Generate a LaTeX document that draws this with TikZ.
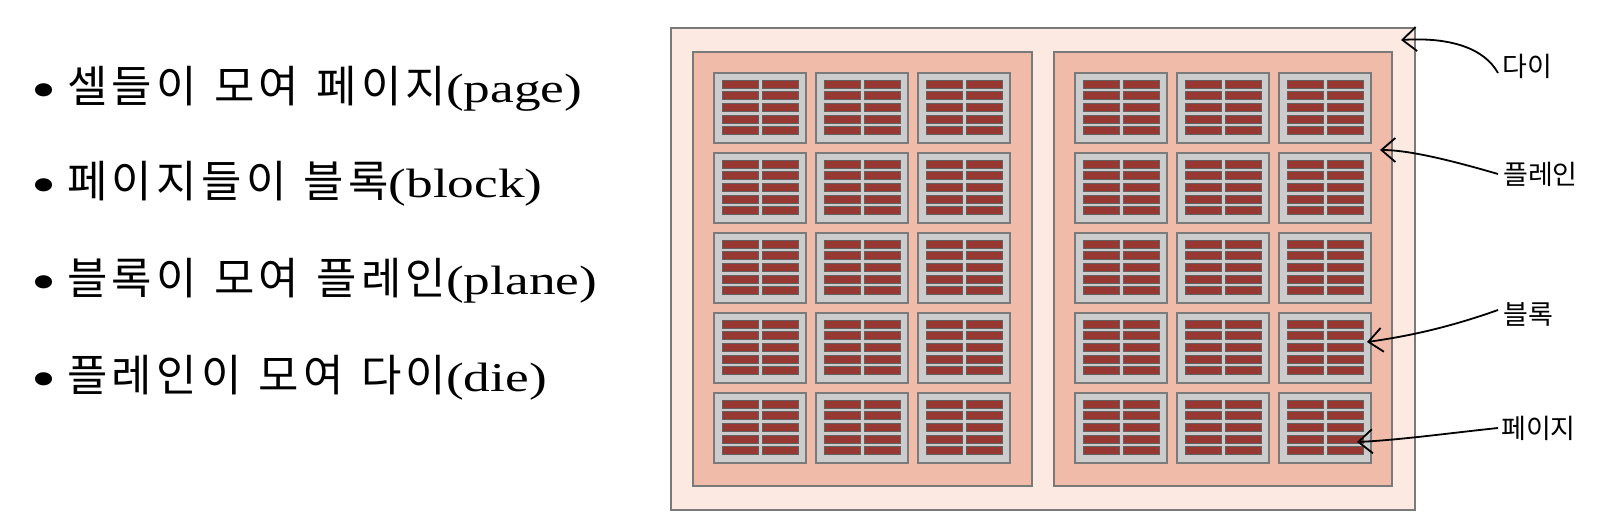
\documentclass[tikz,border=0pt]{standalone}
\usepackage{fontspec}
\setmainfont[FakeStretch=1.3]{Liberation Serif}
\newfontfamily\kr[Scale=1.07,LetterSpace=10,WordSpace=1.2]{Noto Sans CJK KR}
\newfontfamily\krtag{Noto Sans CJK KR}
\usetikzlibrary{arrows.meta}

\definecolor{dieclr}{RGB}{252,233,226}
\definecolor{planeclr}{RGB}{240,187,169}
\definecolor{blockclr}{RGB}{204,204,204}
\definecolor{edgeclr}{RGB}{122,122,122}
\definecolor{pageclr}{RGB}{152,56,51}

\newcommand{\itemdot}{\makebox[35pt][l]{\hspace{-1pt}\raisebox{-6pt}{\fontsize{55}{60}\selectfont •}}}

\begin{document}
\begin{tikzpicture}[x=1pt,y=-1pt]
\tikzstyle{die}=[fill=dieclr,draw=edgeclr,line width=2.5pt]
\tikzstyle{plane}=[fill=planeclr,draw=edgeclr,line width=2.2pt]
\tikzstyle{blk}=[fill=blockclr,draw=edgeclr,line width=2.5pt]
\tikzstyle{pg}=[fill=pageclr,draw=edgeclr!80!black,line width=0.9pt]
\tikzstyle{item}=[anchor=base west,inner sep=0pt,font=\fontsize{41}{48}\selectfont]
\tikzstyle{tag}=[anchor=west,inner sep=0pt,font=\krtag\fontsize{27}{32}\selectfont]
\tikzstyle{pointer}=[-{Straight Barb[length=14pt,width=24pt]},line width=1.8pt]
\useasboundingbox (0,0) rectangle (1602,530);

% bullet list
\node[item] (s1) at (32,102) {\itemdot{\kr 셀들이 모여 페이지}(page)};
\node[item] (s2) at (32,197) {\itemdot{\kr 페이지들이 블록}(block)};
\node[item] (s3) at (32,294) {\itemdot{\kr 블록이 모여 플레인}(plane)};
\node[item] (s4) at (32,391) {\itemdot{\kr 플레인이 모여 다이}(die)};

% die and planes
\draw[die] (671,28) rectangle (1415,510);
\draw[plane] (693,52) rectangle (1032,486);
\draw[plane] (1054,52) rectangle (1392,486);

% blocks, 10 pages each
\foreach \px in {714,1075}
  \foreach \i in {0,1,2}
    \foreach \j in {0,...,4} {
      \pgfmathsetmacro\bx{\px+102*\i}
      \pgfmathsetmacro\by{73+80*\j}
      \draw[blk] (\bx,\by) rectangle ++(92,70);
      \foreach \r in {0,...,4} {
        \draw[pg] (\bx+8,\by+7+11.7*\r) rectangle ++(36,8);
        \draw[pg] (\bx+48,\by+7+11.7*\r) rectangle ++(36,8);
      }
    }

% labels
\node[tag] (ldie) at (1502,66) {다이};
\node[tag] (lplane) at (1503,174) {플레인};
\node[tag] (lblock) at (1503,314) {블록};
\node[tag] (lpage) at (1501,428) {페이지};

\coordinate (tdie) at (1401,40);
\coordinate (tplane) at (1380,150);
\coordinate (tblock) at (1367,342);
\coordinate (tpage) at (1357,442);

\draw[pointer] ([xshift=-4pt,yshift=-7pt]ldie.west) .. controls (1484,48) and (1450,37) .. (tdie);
\draw[pointer] ([xshift=-5pt]lplane.west) .. controls (1460,163) and (1412,150) .. (tplane);
\draw[pointer] ([xshift=-5pt,yshift=4pt]lblock.west) .. controls (1450,327) and (1410,336) .. (tblock);
\draw[pointer] ([xshift=-3pt]lpage.west) .. controls (1450,433) and (1400,440) .. (tpage);
\end{tikzpicture}
\end{document}
